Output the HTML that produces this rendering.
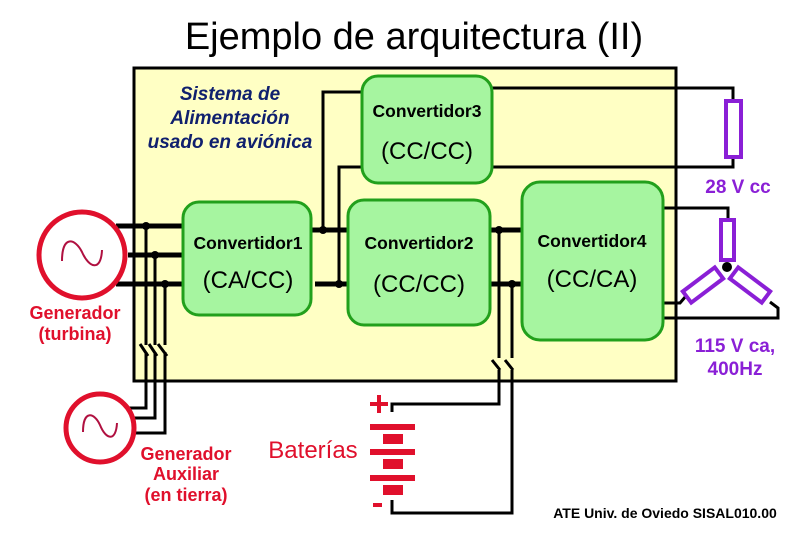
<!DOCTYPE html>
<html><head><meta charset="utf-8"><style>
html,body{margin:0;padding:0;background:#fff}
svg{display:block}
text{font-family:"Liberation Sans",sans-serif;font-weight:bold}
</style></head><body>
<svg width="810" height="540" viewBox="0 0 810 540" xmlns="http://www.w3.org/2000/svg">
<rect width="810" height="540" fill="#fff"/>
<text x="414" y="49" font-size="38" text-anchor="middle" fill="#000" style="font-weight:normal">Ejemplo de arquitectura (II)</text>
<rect x="134" y="68" width="542" height="313" fill="#ffffc4" stroke="#000" stroke-width="3"/>
<text font-size="19" fill="#10206e" font-style="italic" text-anchor="middle"><tspan x="230" y="100">Sistema de</tspan><tspan x="230" y="124">Alimentación</tspan><tspan x="230" y="148">usado en aviónica</tspan></text>

<g stroke="#000" fill="none">
<path d="M116 226H183M128 255H183M116 284H183" stroke-width="5"/>
<path d="M146 226V345M155 255V345M165 284V345" stroke-width="3"/>
<path d="M146 352V408H128M155 352V418H132M165 352V433H132" stroke-width="3"/>
<path d="M140 344L148 356M149 344L157 356M158 344L167 356" stroke-width="3"/>
<path d="M311 230H348M315 284H348" stroke-width="5"/>
<path d="M323 230V92H362M339 284V167H362" stroke-width="3"/>
<path d="M490 230H522M490 284H522" stroke-width="5"/>
<path d="M499 230V358M512 284V358" stroke-width="3"/>
<path d="M492 360L500 370M505 360L513 370" stroke-width="3"/>
<path d="M499 370V404H392V412M512 370V513H392V500" stroke-width="3"/>
<path d="M492 88H733V101M492 167H733V157" stroke-width="3"/>
<path d="M663 208H728V220M663 318H778V308L770 302M663 303H680L686 296" stroke-width="3"/>
</g>
<g fill="#000">
<circle cx="146" cy="226" r="4"/><circle cx="155" cy="255" r="4"/><circle cx="165" cy="284" r="4"/>
<circle cx="323" cy="230" r="4"/><circle cx="339" cy="284" r="4"/>
<circle cx="499" cy="230" r="4"/><circle cx="512" cy="284" r="4"/>
<circle cx="727" cy="267" r="5"/>
</g>

<g fill="#a6f5a0" stroke="#22a01c" stroke-width="3">
<rect x="183" y="202" width="128" height="113" rx="16"/>
<rect x="348" y="200" width="142" height="125" rx="16"/>
<rect x="362" y="76" width="130" height="107" rx="16"/>
<rect x="522" y="182" width="141" height="158" rx="18"/>
</g>
<g fill="#000" text-anchor="middle">
<text x="248" y="249" font-size="17.5">Convertidor1</text>
<text x="248" y="288" font-size="24" style="font-weight:normal">(CA/CC)</text>
<text x="419" y="249" font-size="17.5">Convertidor2</text>
<text x="419" y="292" font-size="24" style="font-weight:normal">(CC/CC)</text>
<text x="427" y="117" font-size="17.5">Convertidor3</text>
<text x="427" y="159" font-size="24" style="font-weight:normal">(CC/CC)</text>
<text x="592" y="247" font-size="17.5">Convertidor4</text>
<text x="592" y="287" font-size="24" style="font-weight:normal">(CC/CA)</text>
</g>

<g fill="#fff" stroke="#8a1fd6" stroke-width="4">
<rect x="726" y="101" width="15" height="56"/>
<rect x="721" y="220" width="13" height="40"/>
<rect x="-20" y="-7" width="40" height="14" transform="translate(703,285) rotate(-37)"/>
<rect x="-20" y="-7" width="40" height="14" transform="translate(750,285) rotate(37)"/>
</g>
<g fill="#8a1fd6" text-anchor="middle">
<text x="738" y="193" font-size="19">28 V cc</text>
<text x="735" y="352" font-size="19">115 V ca,</text>
<text x="735" y="375" font-size="19">400Hz</text>
</g>

<g fill="#fff" stroke="#e0102c" stroke-width="5">
<circle cx="82" cy="255" r="43"/>
<circle cx="100" cy="428" r="34"/>
</g>
<g fill="none" stroke="#b01040" stroke-width="2">
<path d="M62 261C62 235 75 238 82 252C89 268 101 272 102 250"/>
<path d="M83 432C83 410 94 412 100 425C106 440 116 442 117 423"/>
</g>
<g fill="#e0102c" text-anchor="middle">
<text x="75" y="319" font-size="18">Generador</text>
<text x="75" y="340" font-size="18">(turbina)</text>
<text x="186" y="460" font-size="18">Generador</text>
<text x="186" y="480" font-size="18">Auxiliar</text>
<text x="186" y="501" font-size="18">(en tierra)</text>
<text x="313" y="458" font-size="24" style="font-weight:normal">Baterías</text>
</g>
<g fill="#e0102c">
<rect x="370" y="402" width="18" height="4"/><rect x="377" y="395" width="4" height="18"/>
<rect x="370" y="424" width="45" height="6"/>
<rect x="383" y="434" width="20" height="10"/>
<rect x="370" y="449" width="45" height="6"/>
<rect x="383" y="459" width="20" height="10"/>
<rect x="370" y="475" width="45" height="6"/>
<rect x="383" y="485" width="20" height="10"/>
<rect x="373" y="503" width="9" height="4"/>
</g>
<text x="665" y="518" font-size="14" text-anchor="middle" fill="#000">ATE Univ. de Oviedo SISAL010.00</text>
</svg>
</body></html>
